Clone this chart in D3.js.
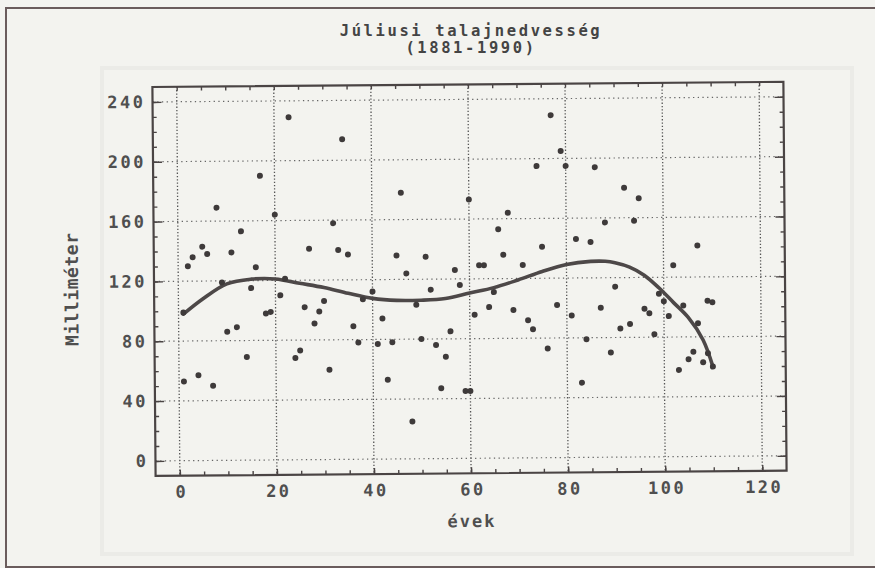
<!DOCTYPE html>
<html><head><meta charset="utf-8">
<script src="https://cdn.jsdelivr.net/npm/d3@7"></script>
<style>
body{margin:0;background:#f3f3ef;}
svg{display:block}
text{font-family:"DejaVu Sans Mono",monospace;font-weight:bold;}
</style>
</head><body>
<svg id="c" width="875" height="568"></svg>
<script>
const titleLines = ["Júliusi talajnedvesség", "(1881-1990)"];
const xLabel = "évek";
const yLabel = "Milliméter";
const xTicks = [0, 20, 40, 60, 80, 100, 120];
const yTicks = [0, 40, 80, 120, 160, 200, 240];

// scatter: year index and July soil moisture (mm)
const pointX = [1,1,2,3,4,5,6,7,8,9,10,11,12,13,14,15,16,17,18,19,20,21,22,23,24,25,26,27,28,29,30,
  31,32,33,34,35,36,37,38,40,41,42,43,44,45,46,47,48,49,50,51,52,53,54,55,56,57,58,59,60,60,
  61,62,63,64,65,66,67,68,69,71,72,73,74,75,76,77,78,79,80,81,82,83,84,85,86,87,88,89,90,
  91,92,93,94,95,96,97,98,99,100,101,102,103,104,105,106,107,107,108,109,109,110,110];
const pointY = [53,99,130,136,57,143,138,50,169,119,86,139,89,153,69,115,129,190,98,99,164,110,121,229,68,73,102,141,91,99,106,
  60,158,140,214,137,89,78,107,112,77,94,53,78,136,178,124,25,103,80,135,113,76,47,68,85,126,116,45,173,45,
  96,129,129,101,111,153,136,164,99,129,92,86,195,141,73,229,102,205,195,95,146,50,79,144,194,100,157,70,114,
  86,180,89,158,173,99,96,82,109,104,94,128,58,101,65,70,141,89,63,104,69,103,60];

// fitted trend curve
const trendX = [1,5,10,15,20,25,30,35,40,45,50,55,60,65,70,75,80,85,88,90,93,96,99,102,105,108,110];
const trendY = [98,108,118,121,121,118,115,111,107.5,106,106,107,110.5,114,119,124.5,129,131,131,130,127,121.5,113,103,93,78,60];

const svg = d3.select("#c");
svg.append("rect").attr("width",875).attr("height",568).attr("fill","#f3f3ef");
// faint bleed-through frame of the scanned page
svg.append("rect").attr("x",102).attr("y",68).attr("width",750).attr("height",486)
  .attr("fill","none").attr("stroke","#ebebe7").attr("stroke-width",4);
// outer page border
svg.append("rect").attr("x",6).attr("y",8).attr("width",900).attr("height",559)
  .attr("fill","none").attr("stroke","#6a5c5c").attr("stroke-width",2);

const L = 154, R = 785, T = 84.4, B = 473.3;
const x = d3.scaleLinear().domain([-5,125]).range([L,R]);
const y = d3.scaleLinear().domain([-10,250]).range([B,T]);

const g = svg.append("g").attr("transform","rotate(-0.47,470,280)");
const ink = "#4a4444";

// title
svg.append("g").selectAll("text").data(titleLines).join("text")
  .attr("x",471).attr("y",(d,i)=>36+i*17).attr("text-anchor","middle")
  .attr("font-size",15.5).attr("letter-spacing","2.6px").attr("fill","#444").text(d=>d);

// grid
g.append("g").selectAll("line").data(xTicks).join("line")
  .attr("x1",d=>x(d)).attr("x2",d=>x(d)).attr("y1",T).attr("y2",B)
  .attr("stroke","#555").attr("stroke-width",1.3).attr("stroke-dasharray","1.3,2");
g.append("g").selectAll("line").data(yTicks).join("line")
  .attr("x1",L).attr("x2",R).attr("y1",d=>y(d)).attr("y2",d=>y(d))
  .attr("stroke","#666").attr("stroke-width",1.2).attr("stroke-dasharray","1.3,3.4");

// minor ticks on all four sides
const minorX = d3.range(0,121,5), minorY = d3.range(0,241,10);
function styleAxis(sel){
  sel.select(".domain").remove();
  sel.selectAll(".tick line").attr("stroke",ink).attr("stroke-width",1.4);
}
g.append("g").attr("transform",`translate(0,${B})`).call(d3.axisBottom(x).tickValues(minorX).tickSize(-4).tickFormat("")).call(styleAxis);
g.append("g").attr("transform",`translate(0,${T})`).call(d3.axisTop(x).tickValues(minorX).tickSize(-4).tickFormat("")).call(styleAxis);
g.append("g").attr("transform",`translate(${L},0)`).call(d3.axisLeft(y).tickValues(minorY).tickSize(-4).tickFormat("")).call(styleAxis);
g.append("g").attr("transform",`translate(${R},0)`).call(d3.axisRight(y).tickValues(minorY).tickSize(-4).tickFormat("")).call(styleAxis);

// major ticks with labels
const ax = g.append("g").attr("transform",`translate(0,${B})`)
  .call(d3.axisBottom(x).tickValues(xTicks).tickSize(-6).tickPadding(10).tickFormat(d3.format("d")));
styleAxis(ax);
const ay = g.append("g").attr("transform",`translate(${L},0)`)
  .call(d3.axisLeft(y).tickValues(yTicks).tickSize(-9).tickPadding(9).tickFormat(d3.format("d")));
styleAxis(ay);
g.append("g").attr("transform",`translate(${R},0)`)
  .call(d3.axisRight(y).tickValues(yTicks).tickSize(-9).tickFormat("")).call(styleAxis);
[ax,ay].forEach(a=>a.selectAll("text").attr("font-size",17).attr("letter-spacing","2.5px")
  .attr("fill","#4f4f4f").style("font-family","DejaVu Sans Mono").style("font-weight","bold"));
ax.selectAll("text").attr("dx","1.25px");
ay.selectAll("text").attr("dx","2px");

// frame
g.append("rect").attr("x",L).attr("y",T).attr("width",R-L).attr("height",B-T)
  .attr("fill","none").attr("stroke",ink).attr("stroke-width",2.2);

// trend curve
const line = d3.line().x((d,i)=>x(trendX[i])).y((d,i)=>y(trendY[i])).curve(d3.curveCatmullRom.alpha(0.5));
g.append("path").attr("d",line(trendY)).attr("fill","none").attr("stroke","#4d4848")
  .attr("stroke-width",3.6).attr("stroke-linecap","round");

// points
g.append("g").selectAll("circle").data(pointY).join("circle")
  .attr("cx",(d,i)=>x(pointX[i])).attr("cy",d=>y(d)).attr("r",3).attr("fill","#3e3a3a");

// axis titles
g.append("text").attr("x",470).attr("y",527).attr("text-anchor","middle")
  .attr("font-size",17).attr("letter-spacing","2px").attr("fill","#4f4f4f").text(xLabel);
g.append("text").attr("transform","translate(78,286) rotate(-90)").attr("text-anchor","middle")
  .attr("font-size",18).attr("letter-spacing","0.5px").attr("fill","#4f4f4f").text(yLabel);
</script>
</body></html>
